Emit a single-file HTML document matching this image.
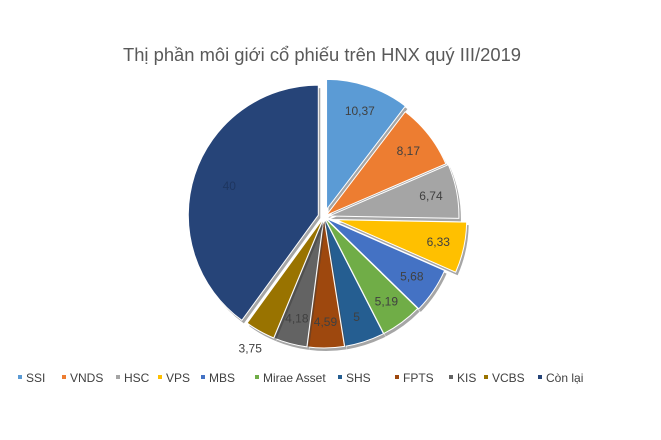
<!DOCTYPE html>
<html><head><meta charset="utf-8">
<style>
html,body{margin:0;padding:0;background:#fff;}
svg{display:block;font-family:"Liberation Sans",sans-serif;}
</style></head>
<body>
<svg id="chart" width="661" height="440" viewBox="0 0 661 440">
<text x="322" y="61" text-anchor="middle" font-size="18" fill="#595959" textLength="398" lengthAdjust="spacingAndGlyphs">Thị phần môi giới cổ phiếu trên HNX quý III/2019</text>
<g id="slices"></g>
<g id="legend"></g>
</svg>
<script>
const categories = ["SSI","VNDS","HSC","VPS","MBS","Mirae Asset","SHS","FPTS","KIS","VCBS","Còn lại"];
const values = [10.37, 8.17, 6.74, 6.33, 5.68, 5.19, 5, 4.59, 4.18, 3.75, 40];
const labels = ["10,37","8,17","6,74","6,33","5,68","5,19","5","4,59","4,18","3,75","40"];
const colors = ["#5b9bd5","#ed7d31","#a5a5a5","#ffc000","#4472c4","#70ad47","#255e91","#9e480e","#636363","#997300","#264478"];
const explode = [8,3,5,13,2,1,1,1,1,1,6];
const legendX = [18,62,116,158,201,255,338,395,449,484,538];

const NS="http://www.w3.org/2000/svg";
const cx=324, cy=217, r=130;
const total=values.reduce((a,b)=>a+b,0);
const g=document.getElementById('slices');
function pt(a,rad,ox,oy){return [ox+rad*Math.sin(a), oy-rad*Math.cos(a)];}
let acc=0;
values.forEach((v,i)=>{
  const a0=acc/total*2*Math.PI, a1=(acc+v)/total*2*Math.PI; acc+=v;
  const am=(a0+a1)/2;
  const ox=cx+explode[i]*Math.sin(am), oy=cy-explode[i]*Math.cos(am);
  const p0=pt(a0,r,ox,oy), p1=pt(a1,r,ox,oy);
  const large=(a1-a0)>Math.PI?1:0;
  const d=`M${ox},${oy} L${p0[0]},${p0[1]} A${r},${r} 0 ${large} 1 ${p1[0]},${p1[1]} Z`;
  const sh=document.createElementNS(NS,'path');
  sh.setAttribute('d',d);
  sh.setAttribute('transform','translate(2,3)');
  sh.setAttribute('fill','#3a3a3a');
  sh.setAttribute('opacity','0.45');
  
  
  g.appendChild(sh);
  const p=document.createElementNS(NS,'path');
  p.setAttribute('d',d);
  p.setAttribute('fill',colors[i]);
  p.setAttribute('stroke','#fff');
  p.setAttribute('stroke-width','1');
  
  
  g.appendChild(p);
  let lr = (i===9)? r+20 : (i===10? r*0.72 : r*0.8);
  const lp=pt(am,lr,ox,oy);
  const t=document.createElementNS(NS,'text');
  t.setAttribute('x',lp[0]); t.setAttribute('y',lp[1]+4);
  t.setAttribute('text-anchor','middle');
  t.setAttribute('font-size','12');
  t.setAttribute('fill', i===10 ? '#1e3660' : '#404040');
  t.textContent=labels[i];
  
  
  g.appendChild(t);
});
const lg=document.getElementById('legend');
categories.forEach((c,i)=>{
  const m=document.createElementNS(NS,'rect');
  m.setAttribute('x',legendX[i]); m.setAttribute('y',375);
  m.setAttribute('width',4); m.setAttribute('height',4);
  m.setAttribute('fill',colors[i]);
  
  
  lg.appendChild(m);
  const t=document.createElementNS(NS,'text');
  t.setAttribute('x',legendX[i]+8); t.setAttribute('y',382);
  t.setAttribute('font-size','12'); t.setAttribute('fill','#404040');
  t.textContent=c;
  
  
  lg.appendChild(t);
});
</script>
</body></html>
